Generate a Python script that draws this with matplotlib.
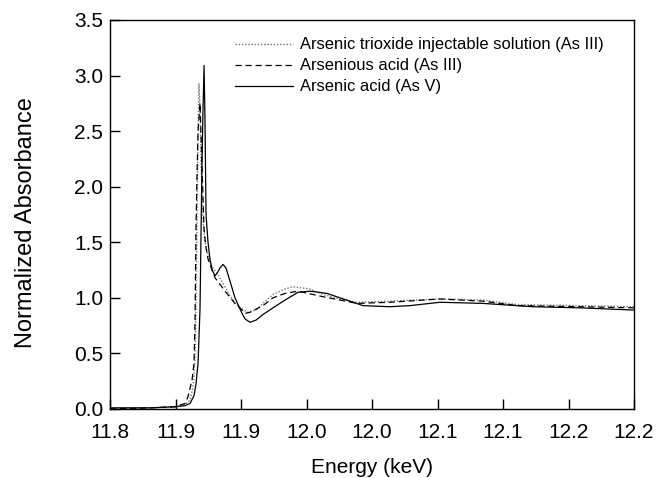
import matplotlib
matplotlib.use('Agg')
from matplotlib import pyplot as plt
import numpy as np

# Arsenic trioxide injectable solution (As III) - dotted
e_trioxide = [11.8000, 11.8305, 11.8496, 11.8573, 11.8611, 11.8634, 11.8649, 11.8656,
              11.8664, 11.8672, 11.8679, 11.8687, 11.8695, 11.8710, 11.8725, 11.8748,
              11.8779, 11.8817, 11.8863, 11.8916, 11.8954, 11.9008, 11.9050, 11.9115,
              11.9168, 11.9244, 11.9336, 11.9397, 11.9527, 11.9626, 11.9756, 11.9885,
              12.0137, 12.0519, 12.0847, 12.1107, 12.1588, 12.2000]
a_trioxide = [0.01, 0.01, 0.02, 0.04, 0.08, 0.20, 0.45, 0.90,
              1.70, 2.50, 2.93, 2.70, 2.20, 1.70, 1.50, 1.38,
              1.28, 1.22, 1.13, 1.02, 0.95, 0.90, 0.87, 0.89,
              0.95, 1.03, 1.08, 1.10, 1.08, 1.03, 0.99, 0.96,
              0.97, 0.99, 0.98, 0.94, 0.93, 0.92]

# Arsenious acid (As III) - dashed
e_arsenious = [11.8000, 11.8305, 11.8496, 11.8573, 11.8595, 11.8626, 11.8641, 11.8649,
               11.8656, 11.8664, 11.8672, 11.8687, 11.8702, 11.8718, 11.8733, 11.8748,
               11.8779, 11.8802, 11.8840, 11.8885, 11.8954, 11.9008, 11.9031, 11.9069,
               11.9168, 11.9244, 11.9336, 11.9435, 11.9626, 11.9885, 12.0137, 12.0519,
               12.0847, 12.1107, 12.1588, 12.2000]
a_arsenious = [0.00, 0.01, 0.02, 0.05, 0.11, 0.26, 0.41, 0.80,
               1.61, 2.10, 2.50, 2.75, 2.20, 1.61, 1.45, 1.35,
               1.25, 1.18, 1.12, 1.05, 0.95, 0.89, 0.86, 0.87,
               0.93, 1.00, 1.04, 1.06, 1.01, 0.95, 0.96, 0.99,
               0.97, 0.93, 0.92, 0.91]

# Arsenic acid (As V) - solid
e_arsenic = [11.8000, 11.8305, 11.8496, 11.8573, 11.8611, 11.8641, 11.8656, 11.8672,
             11.8687, 11.8695, 11.8702, 11.8710, 11.8718, 11.8725, 11.8733, 11.8748,
             11.8763, 11.8779, 11.8802, 11.8817, 11.8840, 11.8863, 11.8885, 11.8916,
             11.8954, 11.9008, 11.9031, 11.9069, 11.9115, 11.9168, 11.9244, 11.9336,
             11.9435, 11.9527, 11.9656, 11.9756, 11.9931, 12.0137, 12.0290, 12.0519,
             12.0847, 12.1229, 12.1588, 12.2000]
a_arsenic = [0.01, 0.01, 0.02, 0.03, 0.05, 0.12, 0.22, 0.41,
             0.90, 1.60, 2.20, 2.70, 3.09, 2.60, 1.75, 1.50,
             1.35, 1.25, 1.20, 1.22, 1.27, 1.30, 1.27, 1.15,
             1.00, 0.86, 0.81, 0.78, 0.80, 0.85, 0.91, 0.98,
             1.05, 1.06, 1.04, 1.00, 0.93, 0.92, 0.93, 0.96,
             0.95, 0.92, 0.91, 0.89]

xticks = [11.80, 11.85, 11.90, 11.95, 12.00, 12.05, 12.10, 12.15, 12.20]
xtick_labels = ['11.8', '11.9', '11.9', '12.0', '12.0', '12.1', '12.1', '12.2', '12.2']
yticks = [0.0, 0.5, 1.0, 1.5, 2.0, 2.5, 3.0, 3.5]

plt.rcParams['font.family'] = 'Liberation Sans'

fig = plt.figure(figsize=(6.56, 4.78), dpi=100)
ax = fig.add_axes([0.1677, 0.1444, 0.7988, 0.8138])

ax.plot(e_trioxide, a_trioxide, color='0.45', linestyle=(0, (1, 1.3)), linewidth=1.0,
        label='Arsenic trioxide injectable solution (As III)')
ax.plot(e_arsenious, a_arsenious, color='black', linestyle=(0, (5, 3)), linewidth=0.9,
        label='Arsenious acid (As III)')
ax.plot(e_arsenic, a_arsenic, color='black', linewidth=0.9,
        label='Arsenic acid (As V)')

ax.set_xlim(11.8, 12.2)
ax.set_ylim(0, 3.5)
ax.set_xticks(xticks)
ax.set_xticklabels(xtick_labels, fontsize=15)
ax.set_yticks(yticks)
ax.set_yticklabels(['%.1f' % v for v in yticks], fontsize=15)
ax.tick_params(axis='x', direction='in', length=7, width=1, pad=10, top=False)
ax.tick_params(axis='y', direction='in', length=7, width=1, pad=5, right=False)
for s in ax.spines.values():
    s.set_linewidth(1.0)

ax.set_xlabel('Energy (keV)', fontsize=15, va='top')
ax.xaxis.set_label_coords(0.5, -0.125)
ax.set_ylabel('Normalized Absorbance', fontsize=17)
ax.yaxis.set_label_coords(-0.14, 0.48)

leg = ax.legend(loc='upper left', bbox_to_anchor=(0.2265, 0.972), frameon=False,
                prop={'size': 11.9}, handlelength=3.5,
                handletextpad=0.42, labelspacing=0.36, borderaxespad=0)

plt.savefig('out.png', dpi=100)
